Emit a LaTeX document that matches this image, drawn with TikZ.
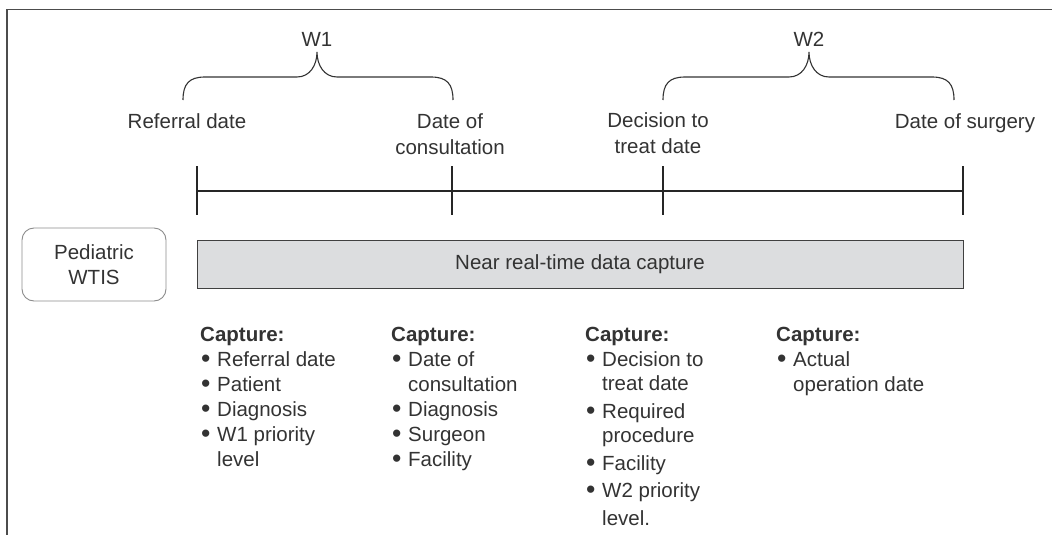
\documentclass[tikz,border=0pt]{standalone}
\usepackage{fontspec}
\usepackage{graphicx}
\setmainfont{Liberation Sans}
\definecolor{txt}{HTML}{333333}
\definecolor{barfill}{HTML}{DCDDDF}
\newcommand\fsz{\fontsize{20.5}{25}\selectfont}
\newcommand\bu{\makebox[17pt][l]{\hspace*{1pt}\raisebox{-0.6pt}{\scalebox{1.3}{\textbullet}}}}
\newcommand\hin{\hspace*{17pt}}
\begin{document}
\begin{tikzpicture}[x=1pt,y=-1pt,
  every node/.style={text=txt, font=\fsz, inner sep=0pt},
  frameline/.style={draw=black!70, line width=1.3pt},
  tline/.style={draw=black!85, line width=1.5pt},
  tickline/.style={draw=black!85, line width=1.6pt},
  bracepath/.style={draw=black!80, line width=1.1pt},
  bar/.style={draw=black!75, line width=1pt, fill=barfill, minimum width=766pt, minimum height=48pt},
  sysbox/.style={draw=black!45, line width=0.9pt, rounded corners=12pt, minimum width=144pt, minimum height=73pt, align=center},
  lbl/.style={anchor=base},
  lbltwo/.style={anchor=south, align=center, font=\fontsize{20.5}{26}\selectfont},
  capcol/.style={anchor=north west, align=left}
]
\useasboundingbox (0,0) rectangle (1052,535);
% frame
\draw[frameline] (7,535) -- (7,9.5) -- (1052,9.5);

% timeline points
\coordinate (t1) at (197,191);
\coordinate (t2) at (452,191);
\coordinate (t3) at (663,191);
\coordinate (t4) at (963,191);
\foreach \n/\x in {1/197,2/452,3/663,4/963}{
  \coordinate (t\n a) at (\x,166);
  \coordinate (t\n b) at (\x,215);
}
\draw[tline] (t1) -- (t4);
\foreach \n in {1,2,3,4}{ \draw[tickline] (t\n a) -- (t\n b); }

% braces
\draw[bracepath] (183,100) .. controls (183,84) and (189,77) .. (205,77) -- (297,77)
  .. controls (310,77) and (317,65) .. (317,52)
  .. controls (317,65) and (324,77) .. (337,77) -- (431,77)
  .. controls (447,77) and (453,84) .. (453,100);
\draw[bracepath] (663,100) .. controls (663,84) and (669,77) .. (685,77) -- (789,77)
  .. controls (802,77) and (809,65) .. (809,52)
  .. controls (809,65) and (816,77) .. (829,77) -- (932,77)
  .. controls (948,77) and (954,84) .. (954,100);

\node[lbl] (w1) at (317,47) {W1};
\node[lbl] (w2) at (809,47) {W2};

\node[lbl] (ref) at (187,128) {Referral date};
\node[lbltwo] (cons) at (450,155) {Date of\\consultation};
\node[lbltwo] (dec) at (658,154) {Decision to\\treat date};
\node[lbl] (surg) at (965,128) {Date of surgery};

% bars
\node[bar] (nrt) at (580,264) {};
\node (nrtxt) at (580,264) {Near real-time data capture};
\node[sysbox] (wtis) at (94,264.5) {Pediatric\\WTIS};

% capture columns
\node[capcol] (c1) at (200,327) {\textbf{Capture:}\\
  \bu Referral date\\ \bu Patient\\ \bu Diagnosis\\ \bu W1 priority\\ \hin level};
\node[capcol] (c2) at (391,327) {\textbf{Capture:}\\
  \bu Date of\\ \hin consultation\\ \bu Diagnosis\\ \bu Surgeon\\ \bu Facility};
\node[capcol, font=\fontsize{20.5}{24}\selectfont] (c3) at (585,327) {\textbf{Capture:}\\[1pt]
  \bu Decision to\\ \hin treat date\\[4pt] \bu Required\\ \hin procedure\\[4pt] \bu Facility\\[3pt] \bu W2 priority\\[4pt] \hin level.};
\node[capcol] (c4) at (776,327) {\textbf{Capture:}\\
  \bu Actual\\ \hin operation date};
\end{tikzpicture}
\end{document}
